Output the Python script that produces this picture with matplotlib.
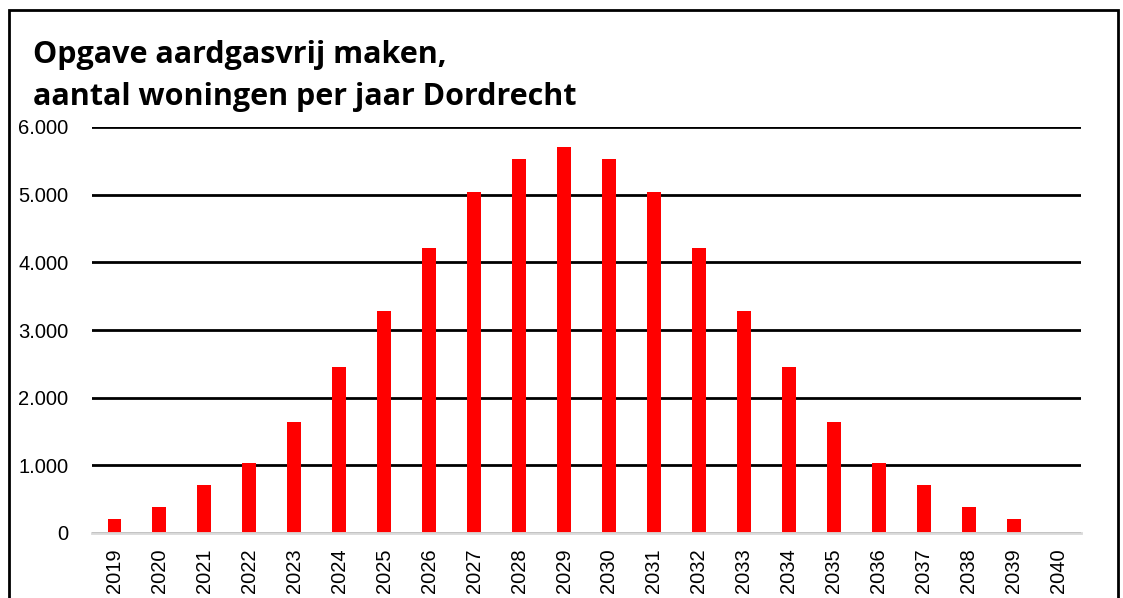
import matplotlib.pyplot as plt
from matplotlib.patches import Rectangle
from matplotlib.ticker import FuncFormatter

# aantal woningen per jaar
jaren = [str(j) for j in range(2019, 2041)]
woningen = [200, 385, 710, 1040, 1640, 2460, 3280, 4210, 5040, 5530, 5700,
            5530, 5040, 4210, 3280, 2460, 1640, 1040, 710, 385, 200, 0]
titel = ["Opgave aardgasvrij maken,", "aantal woningen per jaar Dordrecht"]

fig = plt.figure(figsize=(11.23, 5.98), dpi=100)
ax = fig.add_axes([92 / 1123, 1 - 533 / 598, (1081 - 92) / 1123, (533 - 127) / 598])

ax.bar(range(len(jaren)), woningen, width=0.31, color="#ff0000", zorder=3)
ax.set_xlim(-0.5, len(jaren) - 0.5)
ax.set_ylim(0, 6000)
ax.set_yticks(range(0, 6001, 1000))
ax.yaxis.set_major_formatter(FuncFormatter(lambda v, p: f"{int(v):,}".replace(",", ".")))
ax.set_xticks(range(len(jaren)))
ax.set_xticklabels(jaren, rotation=90)

ax.grid(axis="y", color="black", linewidth=2, zorder=0)
ax.set_axisbelow(True)
for s in ["top", "right", "left"]:
    ax.spines[s].set_visible(False)
ax.spines["bottom"].set_color("#d9d9d9")
ax.spines["bottom"].set_linewidth(2)
ax.spines["bottom"].set_zorder(4)
ax.tick_params(axis="both", length=0, labelsize=14.5, labelfontfamily="Liberation Sans")
ax.tick_params(axis="y", pad=17)
ax.tick_params(axis="x", pad=11)

# titel in twee regels, basislijnen op y=63 en y=105 px
for regel, y in zip(titel, [63, 105]):
    fig.text(33 / 1123, 1 - y / 598, regel, fontsize=22, fontweight="bold",
             family="Open Sans", va="baseline", ha="left")

# rand om de figuur
fig.patches.append(Rectangle((9 / 1123, -0.1), (1118 - 9) / 1123, 1.1 - 10 / 598,
                             transform=fig.transFigure, fill=False,
                             edgecolor="black", linewidth=2))

fig.savefig("out.png", dpi=100)
